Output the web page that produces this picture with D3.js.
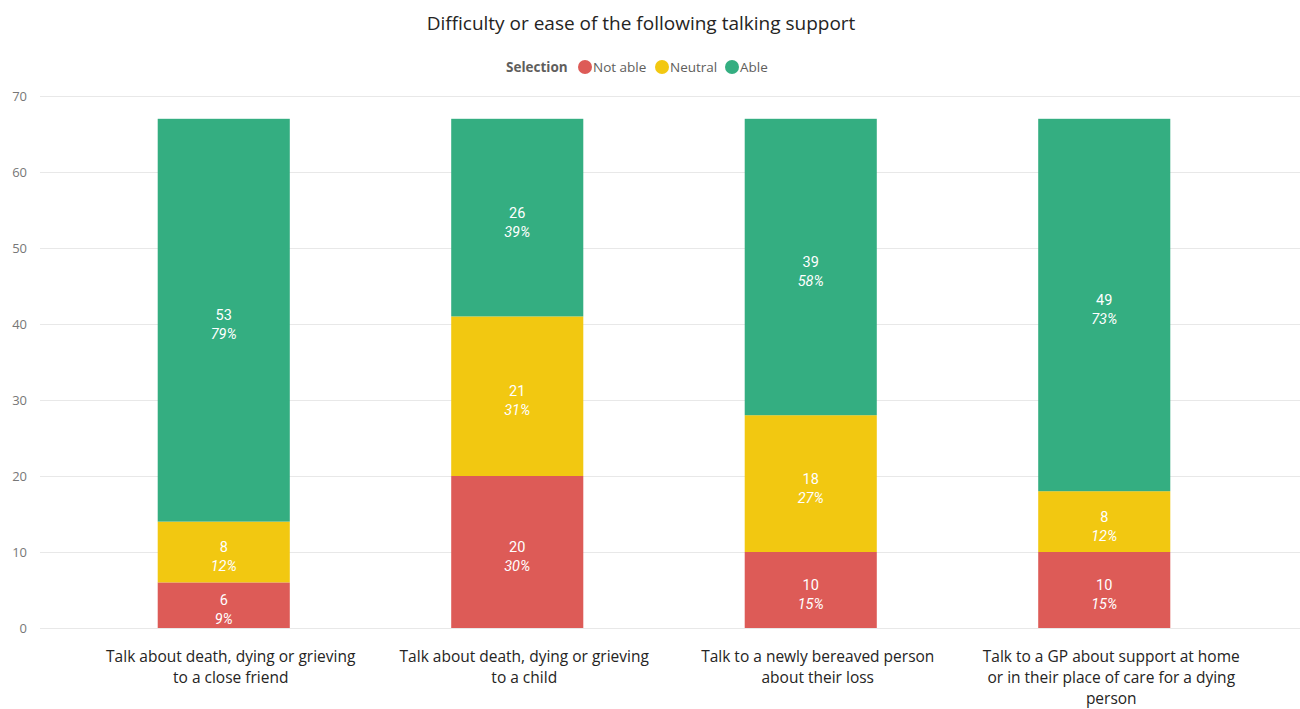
<!DOCTYPE html>
<html>
<head>
<meta charset="utf-8">
<script src="https://cdn.jsdelivr.net/npm/d3@7"></script>
<style>
  html, body { margin: 0; padding: 0; background: #fff; }
  svg { display: block; font-family: "Open Sans", "Noto Sans", sans-serif; }
</style>
</head>
<body>
<svg id="chart" width="1300" height="709"></svg>
<script>
// Survey responses per statement
const categories = [
  ["Talk about death, dying or grieving", "to a close friend"],
  ["Talk about death, dying or grieving", "to a child"],
  ["Talk to a newly bereaved person", "about their loss"],
  ["Talk to a GP about support at home", "or in their place of care for a dying", "person"]
];
const seriesNames = ["Not able", "Neutral", "Able"];
const notAble = [6, 20, 10, 10];
const neutral = [8, 21, 18, 8];
const able = [53, 26, 39, 49];
const yTicks = [0, 10, 20, 30, 40, 50, 60, 70];
const colors = ["#DD5B57", "#F2C811", "#34AE81"];

const svg = d3.select("#chart");
const W = 1300;

const x = d3.scaleBand()
  .domain(d3.range(categories.length))
  .range([77, 1251])
  .paddingInner(0.55)
  .paddingOuter(0.275);

const y = d3.scaleLinear().domain([0, 70]).range([628, 96]);

// Title
svg.append("text")
  .attr("x", 641).attr("y", 30)
  .attr("text-anchor", "middle")
  .attr("font-size", 19)
  .attr("fill", "#252423")
  .text("Difficulty or ease of the following talking support");

// Legend
const legend = svg.append("g").attr("transform", "translate(0,67)");
legend.append("text")
  .attr("x", 506).attr("y", 5)
  .attr("font-size", 13.5).attr("font-weight", "bold")
  .attr("fill", "#605E5C")
  .text("Selection");
const legendItems = [
  { name: seriesNames[0], cx: 585, tx: 593 },
  { name: seriesNames[1], cx: 662, tx: 670 },
  { name: seriesNames[2], cx: 732, tx: 740 }
];
legendItems.forEach((d, i) => {
  legend.append("circle").attr("cx", d.cx).attr("cy", 0).attr("r", 7).attr("fill", colors[i]);
  legend.append("text")
    .attr("x", d.tx).attr("y", 5)
    .attr("font-size", 13.5).attr("fill", "#605E5C")
    .text(d.name);
});

// Gridlines and y-axis labels
const yAxis = d3.axisLeft(y).tickValues(yTicks).tickSize(-(W - 40)).tickPadding(13);
const gy = svg.append("g").attr("transform", "translate(40,0)").call(yAxis);
gy.select(".domain").remove();
gy.selectAll(".tick line").attr("stroke", "#E8E8E8").attr("stroke-width", 1);
gy.selectAll(".tick text")
  .attr("font-size", 13).attr("fill", "#777777")
  .attr("font-family", "\"Open Sans\", sans-serif");

// Stack the three series
const rows = categories.map((c, i) => ({
  i, "Not able": notAble[i], "Neutral": neutral[i], "Able": able[i]
}));
const stacked = d3.stack().keys(seriesNames)(rows);

const layers = svg.append("g").selectAll("g")
  .data(stacked)
  .join("g")
  .attr("fill", (d, k) => colors[k]);

layers.selectAll("rect")
  .data(d => d)
  .join("rect")
  .attr("x", d => x(d.data.i))
  .attr("width", x.bandwidth())
  .attr("y", d => y(d[1]))
  .attr("height", d => y(d[0]) - y(d[1]));

// Data labels: count and share of total
const labels = svg.append("g");
stacked.forEach(layer => {
  layer.forEach(d => {
    const v = d[1] - d[0];
    const total = seriesNames.reduce((s, k) => s + d.data[k], 0);
    const cx = x(d.data.i) + x.bandwidth() / 2;
    const cy = (y(d[0]) + y(d[1])) / 2;
    labels.append("text")
      .attr("x", cx).attr("y", cy)
      .attr("text-anchor", "middle")
      .attr("font-size", 14.5).attr("fill", "#fff")
      .attr("font-family", "Roboto, sans-serif")
      .text(v);
    labels.append("text")
      .attr("x", cx).attr("y", cy + 19)
      .attr("text-anchor", "middle")
      .attr("font-size", 14.5).attr("font-style", "italic").attr("fill", "#fff")
      .attr("font-family", "Roboto, sans-serif")
      .text(Math.round(v / total * 100) + "%");
  });
});

// Category labels
const xl = svg.append("g");
categories.forEach((lines, i) => {
  const t = xl.append("text")
    .attr("text-anchor", "middle")
    .attr("font-size", 15.5).attr("fill", "#252423");
  lines.forEach((ln, j) => {
    t.append("tspan")
      .attr("x", x(i) + x.bandwidth() / 2 + 7)
      .attr("y", 662 + j * 21)
      .text(ln);
  });
});
</script>
</body>
</html>
